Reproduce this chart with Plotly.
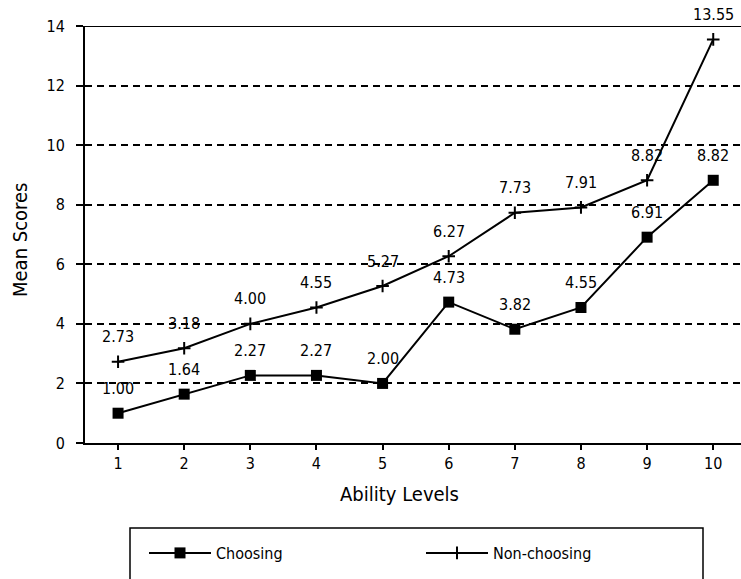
import plotly.graph_objects as go

ability_levels = [1, 2, 3, 4, 5, 6, 7, 8, 9, 10]
choosing = [1.00, 1.64, 2.27, 2.27, 2.00, 4.73, 3.82, 4.55, 6.91, 8.82]
non_choosing = [2.73, 3.18, 4.00, 4.55, 5.27, 6.27, 7.73, 7.91, 8.82, 13.55]
y_ticks = [0, 2, 4, 6, 8, 10, 12, 14]

FONT = "DejaVu Sans Condensed, Liberation Sans Narrow, Arial Narrow, sans-serif"
W, H = 741, 579
L, R, T, B = 85, 0, 26, 136
pw, ph = W - L - R, H - T - B

def px(x):
    return (x - L) / pw

def py(y):
    return (H - B - y) / ph

fig = go.Figure()
fig.add_trace(go.Scatter(
    x=ability_levels, y=choosing, name="Choosing", mode="lines+markers",
    line=dict(color="black", width=2),
    marker=dict(symbol="square", size=11, color="black"),
))
fig.add_trace(go.Scatter(
    x=ability_levels, y=non_choosing, name="Non-choosing", mode="lines+markers",
    line=dict(color="black", width=2),
    marker=dict(symbol="cross-thin", size=9, color="black",
                line=dict(color="black", width=2)),
))

annotations = []
for xs, ys in ((ability_levels, choosing), (ability_levels, non_choosing)):
    for xv, yv in zip(xs, ys):
        annotations.append(dict(
            x=xv, y=yv, xref="x", yref="y", text=f"{yv:.2f}", showarrow=False,
            yshift=25, font=dict(family=FONT, size=16, color="black"),
        ))

annotations.append(dict(
    x=px(399), y=py(494), xref="paper", yref="paper", text="Ability Levels",
    showarrow=False, font=dict(family=FONT, size=20, color="black"),
    xanchor="center", yanchor="middle",
))
annotations.append(dict(
    x=px(20), y=py(240), xref="paper", yref="paper", text="Mean Scores",
    showarrow=False, textangle=-90, font=dict(family=FONT, size=20, color="black"),
    xanchor="center", yanchor="middle",
))

shapes = [
    dict(type="line", xref="paper", yref="y", x0=px(78), x1=1, y0=14, y1=14,
         line=dict(color="black", width=2)),
    dict(type="rect", xref="paper", yref="paper", x0=px(130), x1=px(703),
         y0=py(528), y1=py(600), line=dict(color="black", width=1.5),
         fillcolor="rgba(0,0,0,0)"),
]

fig.update_layout(
    width=W, height=H,
    margin=dict(l=L, r=R, t=T, b=B, pad=0, autoexpand=False),
    paper_bgcolor="white", plot_bgcolor="white",
    font=dict(family=FONT, size=16, color="black"),
    showlegend=True,
    legend=dict(
        orientation="h", xref="container", yref="container",
        x=144 / W, y=1 - 553 / H, xanchor="left", yanchor="middle",
        entrywidth=200, entrywidthmode="pixels", itemwidth=62,
        font=dict(family=FONT, size=16, color="black"),
        bgcolor="rgba(0,0,0,0)", borderwidth=0,
    ),
    xaxis=dict(
        range=[0.5, 10.42], tickmode="array", tickvals=ability_levels,
        ticktext=[str(v) for v in ability_levels],
        showgrid=False, zeroline=False,
        showline=True, linecolor="black", linewidth=2,
        ticks="outside", ticklen=5, tickwidth=1.5, tickcolor="black",
        tickfont=dict(family=FONT, size=16, color="black"),
        fixedrange=True,
    ),
    yaxis=dict(
        range=[0, 14], tickmode="array", tickvals=y_ticks,
        ticktext=[str(v) for v in y_ticks],
        showgrid=True, gridcolor="black", gridwidth=1.5, griddash="7px,5px",
        zeroline=False,
        showline=True, linecolor="black", linewidth=2,
        ticks="outside", ticklen=7, tickwidth=1.5, tickcolor="black",
        ticklabelstandoff=8,
        tickfont=dict(family=FONT, size=16, color="black"),
        fixedrange=True,
    ),
    annotations=annotations,
    shapes=shapes,
)

fig.write_html(
    "out.html",
    config={"displayModeBar": False},
    post_script="document.body.style.margin='0';document.body.style.padding='0';",
)
